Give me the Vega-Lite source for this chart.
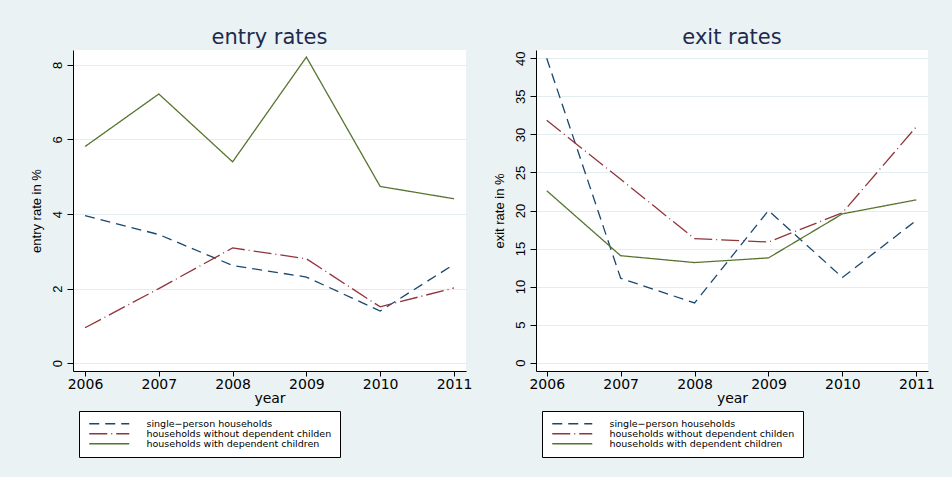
{
  "$schema": "https://vega.github.io/schema/vega-lite/v6.json",
  "background": "#EAF2F3",
  "padding": {"left": 30, "top": 27, "right": 40, "bottom": 40},
  "spacing": 20,
  "config": {
    "view": {"fill": "white", "stroke": null},
    "font": "DejaVu Sans",
    "axis": {
      "domainColor": "black", "tickColor": "black", "labelColor": "black", "titleColor": "black",
      "gridColor": "#E3EDEF", "gridWidth": 1.2, "domainWidth": 1, "tickWidth": 1,
      "titleFontWeight": "normal"
    },
    "axisX": {
      "grid": false, "labelFont": "DejaVu Sans", "labelFontSize": 14, "titleFont": "DejaVu Sans",
      "titleFontSize": 14, "tickSize": 5, "labelPadding": 1, "titlePadding": 0
    },
    "axisY": {
      "grid": true, "labelFont": "Liberation Sans", "labelFontSize": 13, "labelAngle": 270,
      "labelAlign": "center", "labelBaseline": "bottom", "tickSize": 6, "labelPadding": 3,
      "titleFont": "Liberation Sans", "titleFontSize": 13, "titlePadding": 8
    },
    "title": {"font": "DejaVu Sans", "fontSize": 21, "fontWeight": "normal", "color": "#1c2a4f", "offset": 2, "anchor": "middle"},
    "legend": {
      "fillColor": "white", "strokeColor": "black", "padding": 8, "direction": "vertical",
      "symbolType": "M-1,0H15", "symbolSize": 25, "symbolStrokeWidth": 1.3,
      "labelFont": "DejaVu Sans", "labelFontSize": 9.5, "labelColor": "black", "labelOffset": 50,
      "labelLimit": 0, "rowPadding": -2
    }
  },
  "datasets": {
    "entry": [
      {"year": 2006, "group": "single\u2212person households", "rate": 3.96},
      {"year": 2007, "group": "single\u2212person households", "rate": 3.45},
      {"year": 2008, "group": "single\u2212person households", "rate": 2.62},
      {"year": 2009, "group": "single\u2212person households", "rate": 2.31},
      {"year": 2010, "group": "single\u2212person households", "rate": 1.40},
      {"year": 2011, "group": "single\u2212person households", "rate": 2.65},
      {"year": 2006, "group": "households without dependent childen", "rate": 0.95},
      {"year": 2007, "group": "households without dependent childen", "rate": 2.0},
      {"year": 2008, "group": "households without dependent childen", "rate": 3.09},
      {"year": 2009, "group": "households without dependent childen", "rate": 2.80},
      {"year": 2010, "group": "households without dependent childen", "rate": 1.51},
      {"year": 2011, "group": "households without dependent childen", "rate": 2.02},
      {"year": 2006, "group": "households with dependent children", "rate": 5.81},
      {"year": 2007, "group": "households with dependent children", "rate": 7.22},
      {"year": 2008, "group": "households with dependent children", "rate": 5.40},
      {"year": 2009, "group": "households with dependent children", "rate": 8.21},
      {"year": 2010, "group": "households with dependent children", "rate": 4.74},
      {"year": 2011, "group": "households with dependent children", "rate": 4.41}
    ],
    "exit": [
      {"year": 2006, "group": "single\u2212person households", "rate": 40.0},
      {"year": 2007, "group": "single\u2212person households", "rate": 11.1},
      {"year": 2008, "group": "single\u2212person households", "rate": 7.85},
      {"year": 2009, "group": "single\u2212person households", "rate": 20.0},
      {"year": 2010, "group": "single\u2212person households", "rate": 11.2},
      {"year": 2011, "group": "single\u2212person households", "rate": 18.7},
      {"year": 2006, "group": "households without dependent childen", "rate": 31.85},
      {"year": 2007, "group": "households without dependent childen", "rate": 24.1},
      {"year": 2008, "group": "households without dependent childen", "rate": 16.3},
      {"year": 2009, "group": "households without dependent childen", "rate": 15.86},
      {"year": 2010, "group": "households without dependent childen", "rate": 19.7},
      {"year": 2011, "group": "households without dependent childen", "rate": 31.0},
      {"year": 2006, "group": "households with dependent children", "rate": 22.6},
      {"year": 2007, "group": "households with dependent children", "rate": 14.06},
      {"year": 2008, "group": "households with dependent children", "rate": 13.16},
      {"year": 2009, "group": "households with dependent children", "rate": 13.77},
      {"year": 2010, "group": "households with dependent children", "rate": 19.56},
      {"year": 2011, "group": "households with dependent children", "rate": 21.4}
    ]
  },
  "hconcat": [
    {
      "width": 393,
      "height": 321,
      "title": "entry rates",
      "data": {"name": "entry"},
      "mark": {"type": "line", "strokeWidth": 1.3},
      "encoding": {
        "x": {"field": "year", "type": "quantitative",
          "scale": {"domain": [2005.837, 2011.163], "nice": false, "zero": false},
          "axis": {"values": [2006, 2007, 2008, 2009, 2010, 2011], "format": "d", "title": "year"}},
        "y": {"field": "rate", "type": "quantitative",
          "scale": {"domain": [-0.21, 8.4], "nice": false, "zero": false},
          "axis": {"values": [0, 2, 4, 6, 8], "title": "entry rate in %"}},
        "color": {"field": "group", "type": "nominal",
          "scale": {"domain": ["single\u2212person households", "households without dependent childen", "households with dependent children"], "range": ["#1a476f", "#90353b", "#55752f"]},
          "legend": {"orient": "none", "legendX": 6, "legendY": 361, "title": null}},
        "strokeDash": {"field": "group", "type": "nominal",
          "scale": {"domain": ["single\u2212person households", "households without dependent childen", "households with dependent children"], "range": [[10, 6], [18, 4, 1, 4], [1, 0]]},
          "legend": {"orient": "none", "legendX": 6, "legendY": 361, "title": null}}
      }
    },
    {
      "width": 392,
      "height": 321,
      "title": "exit rates",
      "data": {"name": "exit"},
      "mark": {"type": "line", "strokeWidth": 1.3},
      "encoding": {
        "x": {"field": "year", "type": "quantitative",
          "scale": {"domain": [2005.855, 2011.158], "nice": false, "zero": false},
          "axis": {"values": [2006, 2007, 2008, 2009, 2010, 2011], "format": "d", "title": "year"}},
        "y": {"field": "rate", "type": "quantitative",
          "scale": {"domain": [-1.09, 41.09], "nice": false, "zero": false},
          "axis": {"values": [0, 5, 10, 15, 20, 25, 30, 35, 40], "title": "exit rate in %"}},
        "color": {"field": "group", "type": "nominal",
          "scale": {"domain": ["single\u2212person households", "households without dependent childen", "households with dependent children"], "range": ["#1a476f", "#90353b", "#55752f"]},
          "legend": {"orient": "none", "legendX": 6, "legendY": 361, "title": null}},
        "strokeDash": {"field": "group", "type": "nominal",
          "scale": {"domain": ["single\u2212person households", "households without dependent childen", "households with dependent children"], "range": [[10, 6], [18, 4, 1, 4], [1, 0]]},
          "legend": {"orient": "none", "legendX": 6, "legendY": 361, "title": null}}
      }
    }
  ],
  "resolve": {
    "scale": {"x": "independent", "y": "independent", "color": "independent", "strokeDash": "independent"},
    "legend": {"color": "independent", "strokeDash": "independent"}
  }
}
